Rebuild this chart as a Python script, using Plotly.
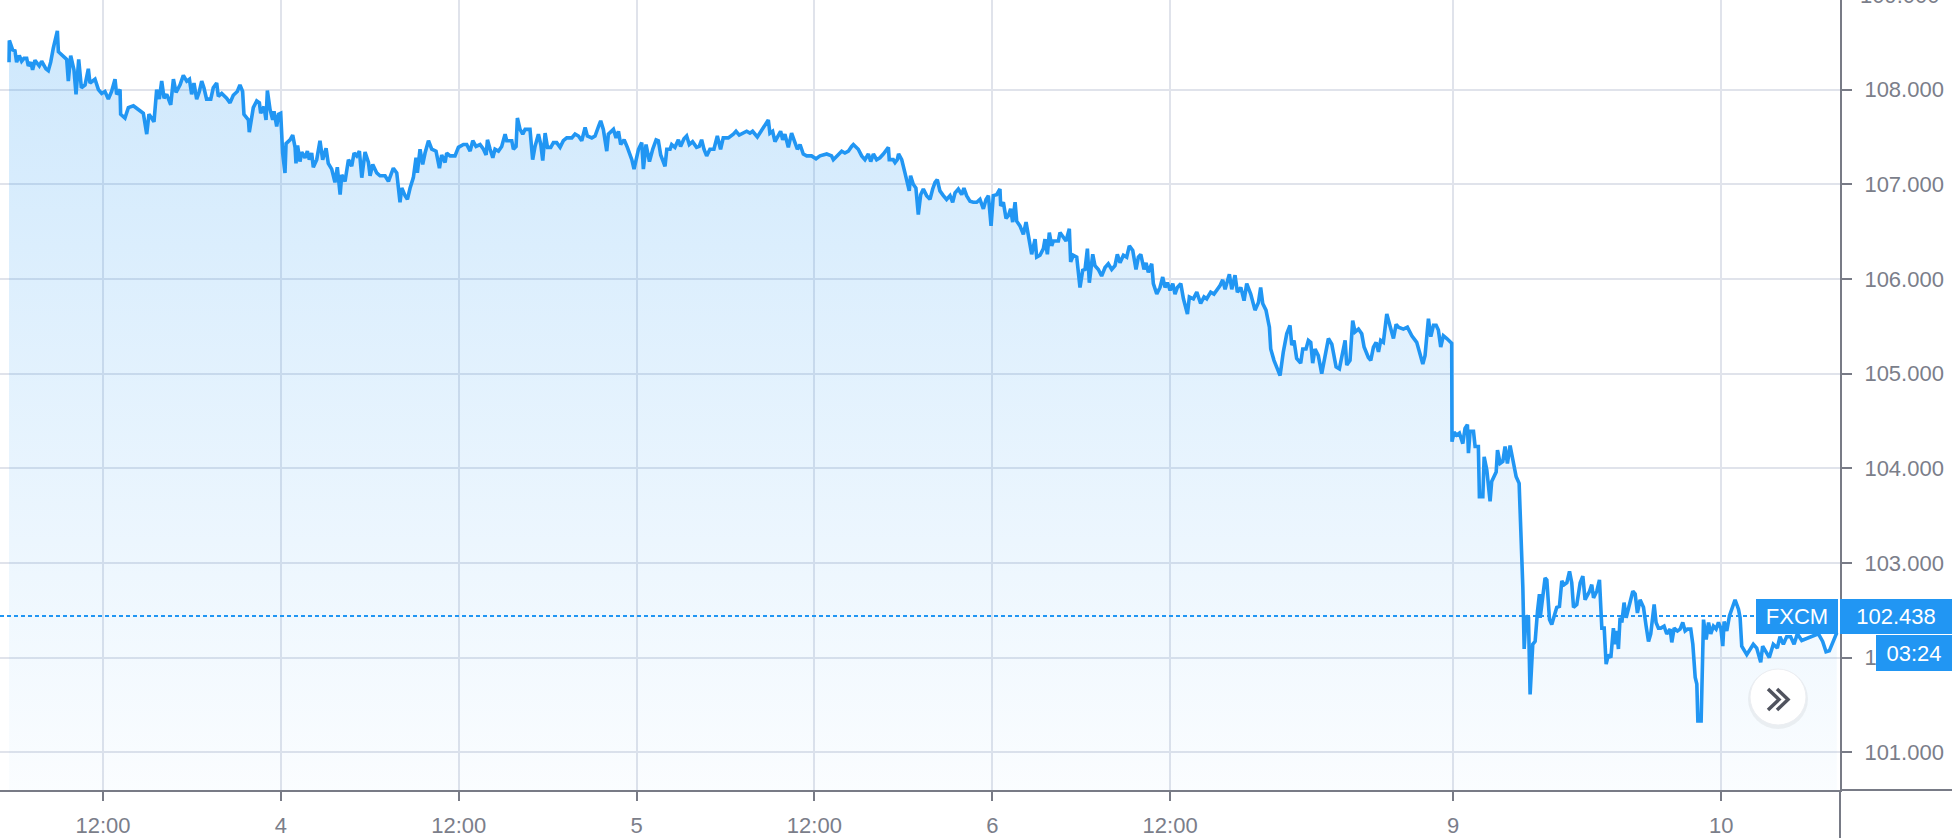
import plotly.graph_objects as go

# USD/JPY, FXCM feed; x is trading time in hours on the chart's bar axis
hours = [
    5.66, 5.68, 5.90, 6.06, 6.17, 6.35, 6.51, 6.67, 6.85, 6.96, 7.12, 7.25, 7.41, 7.57, 7.70, 7.86,
    8.02, 8.15, 8.31, 8.47, 8.65, 8.92, 8.99, 9.32, 9.55, 9.66, 9.82, 10.04, 10.18, 10.36, 10.54,
    10.79, 11.01, 11.12, 11.46, 11.69, 11.91, 12.13, 12.36, 12.58, 12.81, 12.92, 13.15, 13.19,
    13.48, 13.71, 14.05, 14.38, 14.72, 14.95, 15.10, 15.28, 15.44, 15.62, 15.80, 15.96, 16.12,
    16.30, 16.57, 16.75, 16.93, 17.20, 17.42, 17.65, 17.83, 17.98, 18.14, 18.32, 18.50, 18.66,
    18.81, 18.99, 19.27, 19.44, 19.67, 19.78, 20.01, 20.34, 20.57, 20.79, 21.06, 21.24, 21.42,
    21.51, 21.81, 21.87, 22.14, 22.37, 22.55, 22.64, 22.86, 23.00, 23.09, 23.27, 23.45, 23.54,
    23.72, 23.85, 23.99, 24.12, 24.28, 24.35, 24.62, 24.80, 24.96, 25.02, 25.13, 25.29, 25.41,
    25.63, 25.79, 25.92, 26.08, 26.19, 26.42, 26.64, 26.82, 27.05, 27.20, 27.43, 27.65, 27.81,
    28.00, 28.11, 28.33, 28.56, 28.78, 28.94, 29.12, 29.30, 29.46, 29.68, 29.91, 30.02, 30.20,
    30.47, 30.69, 31.03, 31.26, 31.59, 31.82, 32.04, 32.16, 32.38, 32.54, 32.72, 32.94, 33.12,
    33.21, 33.39, 33.57, 33.73, 33.96, 34.18, 34.47, 34.70, 34.85, 35.08, 35.19, 35.42, 35.75,
    35.98, 36.32, 36.54, 36.77, 36.95, 37.17, 37.44, 37.67, 37.85, 37.94, 38.12, 38.30, 38.45,
    38.68, 38.90, 39.13, 39.24, 39.58, 39.69, 39.87, 39.96, 40.14, 40.32, 40.48, 40.81, 40.99,
    41.15, 41.38, 41.54, 41.67, 41.83, 41.99, 42.21, 42.39, 42.61, 42.84, 43.06, 43.29, 43.63,
    43.85, 44.08, 44.30, 44.53, 44.68, 44.98, 45.20, 45.43, 45.58, 45.76, 45.99, 46.10, 46.44,
    46.62, 46.78, 46.93, 47.16, 47.38, 47.68, 47.83, 47.97, 48.13, 48.35, 48.46, 48.64, 48.87,
    49.09, 49.32, 49.47, 49.63, 49.92, 50.04, 50.26, 50.37, 50.59, 50.82, 50.97, 51.20, 51.38,
    51.56, 51.78, 52.05, 52.23, 52.39, 52.55, 52.73, 52.95, 53.22, 53.45, 53.67, 53.85, 54.19,
    54.53, 54.71, 54.93, 55.20, 55.43, 55.65, 55.83, 56.15, 56.33, 56.60, 56.89, 57.00, 57.18,
    57.34, 57.56, 57.72, 57.86, 58.01, 58.24, 58.46, 58.69, 58.85, 59.03, 59.25, 59.48, 59.81,
    60.11, 60.38, 60.83, 61.16, 61.28, 61.50, 61.84, 62.06, 62.29, 62.51, 62.63, 62.96, 63.19,
    63.41, 63.64, 63.80, 63.98, 64.20, 64.42, 64.65, 64.99, 65.05, 65.32, 65.44, 65.59, 65.68,
    65.89, 66.11, 66.27, 66.40, 66.49, 66.67, 66.85, 67.01, 67.17, 67.35, 67.57, 67.80, 67.98,
    68.14, 68.29, 68.47, 68.70, 68.92, 69.15, 69.33, 69.49, 69.71, 69.94, 70.09, 70.27, 70.50,
    70.72, 70.95, 71.17, 71.40, 71.58, 71.74, 71.92, 72.07, 72.30, 72.52, 72.57, 72.75, 72.93,
    73.09, 73.24, 73.38, 73.54, 73.65, 73.87, 74.10, 74.28, 74.44, 74.66, 74.89, 75.00, 75.22,
    75.45, 75.56, 75.72, 75.85, 76.01, 76.12, 76.46, 76.57, 76.80, 76.98, 77.20, 77.29, 77.47,
    77.70, 77.92, 78.10, 78.26, 78.42, 78.55, 78.78, 78.93, 79.16, 79.38, 79.61, 79.83, 80.06,
    80.28, 80.44, 80.62, 80.85, 81.07, 81.25, 81.48, 81.70, 81.86, 82.02, 82.24, 82.38, 82.53,
    82.76, 82.87, 83.10, 83.32, 83.50, 83.66, 83.82, 84.00, 84.18, 84.33, 84.49, 84.72, 84.90,
    85.17, 85.30, 85.57, 85.80, 86.06, 86.29, 86.47, 86.74, 86.96, 87.14, 87.37, 87.55, 87.71,
    88.00, 88.16, 88.38, 88.54, 88.77, 88.99, 89.17, 89.44, 89.73, 89.96, 90.11, 90.25, 90.47,
    90.70, 90.79, 91.01, 91.24, 91.42, 91.64, 91.87, 92.09, 92.21, 92.36, 92.54, 92.81, 92.95,
    93.17, 93.33, 93.49, 93.62, 93.78, 94.00, 94.23, 94.45, 94.68, 94.91, 95.20, 95.42, 95.58,
    95.81, 95.92, 96.14, 96.32, 96.48, 96.71, 96.93, 97.09, 97.38, 97.54, 97.72, 97.90, 98.06,
    98.21, 98.39, 98.62, 98.84, 99.07, 99.25, 99.41, 99.74, 100.01, 100.31, 100.64, 100.82,
    101.05, 101.20, 101.32, 101.43, 101.59, 101.77, 101.95, 102.10, 102.26, 102.44, 102.67,
    102.89, 103.00, 103.02, 103.16, 103.34, 103.52, 103.75, 103.90, 104.06, 104.13, 104.24,
    104.47, 104.58, 104.80, 104.87, 105.10, 105.19, 105.37, 105.59, 105.70, 106.00, 106.09,
    106.27, 106.45, 106.60, 106.76, 106.94, 107.12, 107.35, 107.55, 107.73, 107.80, 107.89,
    108.02, 108.18, 108.29, 108.47, 108.63, 108.79, 108.92, 108.97, 109.15, 109.30, 109.42,
    109.60, 109.75, 109.91, 110.09, 110.27, 110.43, 110.59, 110.77, 110.95, 111.10, 111.22,
    111.44, 111.67, 111.85, 112.00, 112.16, 112.30, 112.45, 112.57, 112.79, 112.97, 113.13,
    113.29, 113.42, 113.58, 113.74, 113.91, 114.03, 114.14, 114.25, 114.36, 114.48, 114.63,
    114.77, 114.99, 115.22, 115.38, 115.53, 115.71, 115.94, 116.12, 116.28, 116.43, 116.66,
    116.79, 116.95, 117.11, 117.33, 117.51, 117.74, 117.85, 118.01, 118.23, 118.41, 118.59,
    118.75, 118.91, 119.13, 119.27, 119.43, 119.54, 119.61, 119.83, 119.88, 119.99, 120.17,
    120.33, 120.48, 120.66, 120.84, 121.00, 121.16, 121.29, 121.38, 121.56, 121.74, 121.90,
    122.12, 122.35, 122.46, 122.57, 122.91, 123.35, 123.58, 123.85, 123.98, 124.21, 124.43,
    124.70, 124.97, 125.15, 125.38, 125.60, 125.87, 126.10, 126.32, 126.62, 126.91, 127.18,
    127.45, 127.74, 128.03, 128.26, 128.48, 128.71, 128.98,
]

prices = [
    108.29, 108.52, 108.42, 108.41, 108.29, 108.36, 108.30, 108.33, 108.33, 108.25, 108.29, 108.21,
    108.31, 108.28, 108.25, 108.30, 108.26, 108.22, 108.20, 108.29, 108.44, 108.62, 108.40, 108.35,
    108.32, 108.09, 108.36, 108.21, 107.95, 108.32, 108.02, 108.05, 108.22, 108.07, 108.11, 108.00,
    107.96, 107.98, 107.90, 107.98, 108.11, 107.95, 108.00, 107.74, 107.70, 107.81, 107.83, 107.79,
    107.75, 107.53, 107.74, 107.70, 107.66, 108.00, 107.90, 108.09, 107.91, 107.95, 107.84, 108.11,
    107.97, 108.05, 108.15, 108.09, 108.11, 107.95, 108.07, 107.90, 107.98, 108.09, 108.02, 107.90,
    107.90, 108.02, 108.07, 107.93, 107.96, 107.91, 107.86, 107.94, 107.98, 108.05, 107.98, 107.74,
    107.68, 107.55, 107.81, 107.88, 107.86, 107.75, 107.82, 107.68, 107.99, 107.79, 107.68, 107.77,
    107.61, 107.74, 107.75, 107.33, 107.12, 107.43, 107.47, 107.52, 107.39, 107.22, 107.41, 107.24,
    107.34, 107.28, 107.35, 107.26, 107.33, 107.18, 107.26, 107.46, 107.26, 107.38, 107.22, 107.16,
    107.02, 107.18, 106.89, 107.10, 107.03, 107.26, 107.19, 107.33, 107.30, 107.35, 107.07, 107.34,
    107.23, 107.09, 107.21, 107.12, 107.09, 107.09, 107.03, 107.17, 107.12, 106.81, 106.96, 106.88,
    106.84, 106.96, 107.07, 107.28, 107.12, 107.37, 107.21, 107.33, 107.46, 107.37, 107.35, 107.17,
    107.31, 107.23, 107.33, 107.30, 107.30, 107.39, 107.42, 107.42, 107.35, 107.46, 107.40, 107.42,
    107.37, 107.31, 107.47, 107.37, 107.28, 107.37, 107.35, 107.40, 107.53, 107.46, 107.46, 107.37,
    107.40, 107.70, 107.58, 107.53, 107.58, 107.58, 107.26, 107.40, 107.53, 107.42, 107.25, 107.54,
    107.39, 107.39, 107.44, 107.44, 107.39, 107.46, 107.49, 107.49, 107.53, 107.51, 107.46, 107.60,
    107.51, 107.49, 107.51, 107.61, 107.67, 107.58, 107.35, 107.53, 107.58, 107.49, 107.56, 107.42,
    107.47, 107.39, 107.26, 107.16, 107.28, 107.37, 107.44, 107.16, 107.42, 107.24, 107.37, 107.47,
    107.46, 107.31, 107.19, 107.37, 107.37, 107.42, 107.39, 107.47, 107.40, 107.48, 107.51, 107.42,
    107.45, 107.39, 107.40, 107.47, 107.37, 107.30, 107.37, 107.37, 107.51, 107.37, 107.49, 107.49,
    107.53, 107.56, 107.52, 107.54, 107.56, 107.54, 107.56, 107.50, 107.54, 107.60, 107.68, 107.54,
    107.56, 107.45, 107.51, 107.56, 107.47, 107.53, 107.39, 107.54, 107.44, 107.37, 107.42, 107.32,
    107.30, 107.30, 107.27, 107.30, 107.32, 107.30, 107.26, 107.30, 107.35, 107.33, 107.35, 107.40,
    107.42, 107.37, 107.30, 107.26, 107.32, 107.24, 107.32, 107.26, 107.28, 107.32, 107.39, 107.26,
    107.26, 107.23, 107.26, 107.32, 107.26, 107.12, 107.03, 106.93, 107.09, 107.00, 106.96, 106.68,
    106.89, 106.95, 106.88, 106.84, 106.95, 107.02, 107.05, 106.93, 106.88, 106.84, 106.88, 106.81,
    106.91, 106.95, 106.89, 106.96, 106.88, 106.82, 106.81, 106.81, 106.84, 106.74, 106.84, 106.88,
    106.56, 106.88, 106.89, 106.95, 106.77, 106.81, 106.64, 106.67, 106.74, 106.60, 106.81, 106.61,
    106.56, 106.47, 106.60, 106.44, 106.26, 106.42, 106.23, 106.25, 106.32, 106.42, 106.26, 106.49,
    106.35, 106.40, 106.40, 106.49, 106.44, 106.40, 106.53, 106.18, 106.25, 106.23, 105.91, 106.09,
    106.10, 106.32, 105.96, 106.26, 106.14, 106.10, 106.03, 106.12, 106.16, 106.10, 106.14, 106.26,
    106.17, 106.25, 106.23, 106.35, 106.30, 106.10, 106.23, 106.26, 106.10, 106.17, 106.07, 106.16,
    105.95, 105.84, 105.91, 106.02, 105.91, 105.96, 105.88, 105.95, 105.84, 105.91, 105.95, 105.79,
    105.63, 105.81, 105.79, 105.86, 105.74, 105.81, 105.79, 105.86, 105.84, 105.88, 105.93, 105.99,
    105.89, 106.05, 105.89, 106.04, 105.86, 105.91, 105.77, 105.95, 105.84, 105.67, 105.75, 105.91,
    105.74, 105.67, 105.49, 105.26, 105.14, 105.05, 104.98, 105.23, 105.42, 105.51, 105.30, 105.35,
    105.16, 105.11, 105.26, 105.26, 105.35, 105.33, 105.11, 105.26, 105.19, 105.00, 105.16, 105.37,
    105.31, 105.07, 105.05, 105.17, 105.35, 105.09, 105.14, 105.56, 105.44, 105.47, 105.42, 105.28,
    105.17, 105.14, 105.28, 105.33, 105.23, 105.35, 105.33, 105.63, 105.51, 105.37, 105.52, 105.49,
    105.47, 105.49, 105.40, 105.33, 105.23, 105.10, 105.19, 105.42, 105.58, 105.39, 105.51, 105.51,
    105.46, 105.28, 105.40, 105.37, 105.33, 105.32, 104.28, 104.38, 104.35, 104.37, 104.26, 104.42,
    104.46, 104.16, 104.39, 104.39, 104.23, 104.23, 103.70, 103.70, 104.12, 103.98, 103.65, 103.86,
    103.96, 104.19, 104.05, 104.07, 104.23, 104.05, 104.24, 104.10, 103.91, 103.84, 103.19, 102.74,
    102.09, 102.44, 102.42, 101.61, 102.14, 102.17, 102.49, 102.67, 102.42, 102.63, 102.84, 102.82,
    102.40, 102.35, 102.44, 102.53, 102.54, 102.81, 102.77, 102.79, 102.91, 102.79, 102.53, 102.56,
    102.79, 102.86, 102.61, 102.65, 102.70, 102.77, 102.63, 102.70, 102.82, 102.31, 102.31, 101.93,
    102.03, 102.00, 102.31, 102.14, 102.28, 102.09, 102.42, 102.37, 102.58, 102.42, 102.54, 102.70,
    102.67, 102.47, 102.61, 102.53, 102.33, 102.17, 102.25, 102.56, 102.37, 102.31, 102.31, 102.33,
    102.25, 102.30, 102.16, 102.31, 102.28, 102.30, 102.37, 102.28, 102.30, 102.30, 102.14, 101.79,
    101.72, 101.33, 101.33, 101.72, 102.40, 102.19, 102.37, 102.25, 102.33, 102.30, 102.37, 102.31,
    102.12, 102.38, 102.28, 102.44, 102.51, 102.61, 102.51, 102.42, 102.12, 102.03, 102.14, 102.10,
    101.95, 102.12, 102.06, 102.00, 102.14, 102.10, 102.22, 102.14, 102.22, 102.22, 102.14, 102.25,
    102.18, 102.20, 102.22, 102.24, 102.25, 102.17, 102.06, 102.07, 102.16, 102.26,
]

tick_hours = [12, 24, 36, 48, 60, 72, 84, 103.09, 121.18]
tick_labels = ["12:00", "4", "12:00", "5", "12:00", "6", "12:00", "9", "10"]
price_ticks = [101, 102, 103, 104, 105, 106, 107, 108]
top_price_label = "109.000"   # cut off at the top edge of the chart

last_price = 102.438
feed_name = "FXCM"
countdown = "03:24"

BLUE = "#2196f3"
GRID = "#e0e3eb"
AXIS = "#787b86"
TEXT = "#7b7e8a"
FONT = "Liberation Sans, Arial, sans-serif"

fig = go.Figure()

fig.add_trace(go.Scatter(
    x=hours,
    y=prices,
    mode="lines",
    line=dict(color=BLUE, width=3.6),
    fill="tozeroy",
    fillgradient=dict(
        type="vertical",
        colorscale=[[0, "rgba(33,150,243,0.02)"], [1, "rgba(33,150,243,0.22)"]],
        start=100.6,
        stop=108.7,
    ),
    hoverinfo="skip",
))

fig.update_xaxes(
    range=[5.05, 129.2],
    tickvals=tick_hours,
    ticktext=tick_labels,
    showgrid=True, gridcolor=GRID, gridwidth=2,
    showline=True, linecolor=AXIS, linewidth=2,
    ticks="outside", ticklen=9, tickwidth=2, tickcolor=AXIS,
    ticklabelstandoff=6,
    tickfont=dict(family=FONT, size=22, color=TEXT),
    zeroline=False,
)

fig.update_yaxes(
    side="right",
    range=[100.6, 108.947],
    tickvals=price_ticks,
    ticktext=[f"{p:.3f}" for p in price_ticks],
    showgrid=True, gridcolor=GRID, gridwidth=2,
    showline=True, linecolor=AXIS, linewidth=2,
    ticks="outside", ticklen=10, tickwidth=2, tickcolor=AXIS,
    ticklabelstandoff=8,
    tickfont=dict(family=FONT, size=22, color=TEXT),
    zeroline=False,
)

# last price line
fig.add_shape(type="line", xref="paper", yref="y", x0=0, x1=1, y0=last_price, y1=last_price,
              line=dict(color=BLUE, width=2, dash="4px,3px"))

# axis lines continue under the price scale
fig.add_shape(type="line", xref="paper", yref="paper", x0=1, x1=1.07, y0=0, y1=0,
              line=dict(color=AXIS, width=2))
fig.add_shape(type="line", xref="paper", yref="paper", x0=1, x1=1, y0=0, y1=-0.07,
              line=dict(color=AXIS, width=2))

# scroll-to-realtime button
fig.add_shape(type="circle", xref="paper", yref="paper", xsizemode="pixel", ysizemode="pixel",
              xanchor=1, yanchor=0, x0=-92, x1=-32, y0=61, y1=121,
              fillcolor="rgba(0,0,0,0.05)", line=dict(width=0), layer="above")
fig.add_shape(type="circle", xref="paper", yref="paper", xsizemode="pixel", ysizemode="pixel",
              xanchor=1, yanchor=0, x0=-90, x1=-34, y0=65, y1=121,
              fillcolor="white", line=dict(color="#eceef2", width=1), layer="above")
fig.add_shape(type="path", xref="paper", yref="paper", xsizemode="pixel", ysizemode="pixel",
              xanchor=1, yanchor=0,
              path="M-72,101 L-61,90.5 L-72,80 M-63,101 L-52,90.5 L-63,80",
              line=dict(color="#50535e", width=3.5), layer="above")

# partly hidden top price label
fig.add_annotation(text=top_price_label, xref="paper", yref="paper", x=1, y=1.0063,
                   xanchor="left", yanchor="middle", xshift=18, showarrow=False,
                   font=dict(family=FONT, size=22, color=TEXT))

label_font = dict(family=FONT, size=22, color="white")
fig.add_annotation(text=feed_name, xref="paper", yref="y", x=1, y=last_price,
                   xanchor="right", yanchor="middle", xshift=-2, width=82, height=35,
                   bgcolor=BLUE, borderwidth=0, borderpad=0, showarrow=False, font=label_font)
fig.add_annotation(text=f"{last_price:.3f}", xref="paper", yref="y", x=1, y=last_price,
                   xanchor="left", yanchor="middle", width=112, height=35,
                   bgcolor=BLUE, borderwidth=0, borderpad=0, showarrow=False, font=label_font)
fig.add_annotation(text=countdown, xref="paper", yref="y", x=1, y=last_price,
                   xanchor="left", yanchor="middle", xshift=36, yshift=-37, width=76, height=36,
                   bgcolor=BLUE, borderwidth=0, borderpad=0, showarrow=False, font=label_font)

fig.update_layout(
    width=1952,
    height=838,
    autosize=False,
    margin=dict(l=0, r=112, t=0, b=45),
    paper_bgcolor="white",
    plot_bgcolor="white",
    showlegend=False,
)

fig.write_html("out.html", config={"displayModeBar": False},
               post_script="document.body.style.margin='0';")
